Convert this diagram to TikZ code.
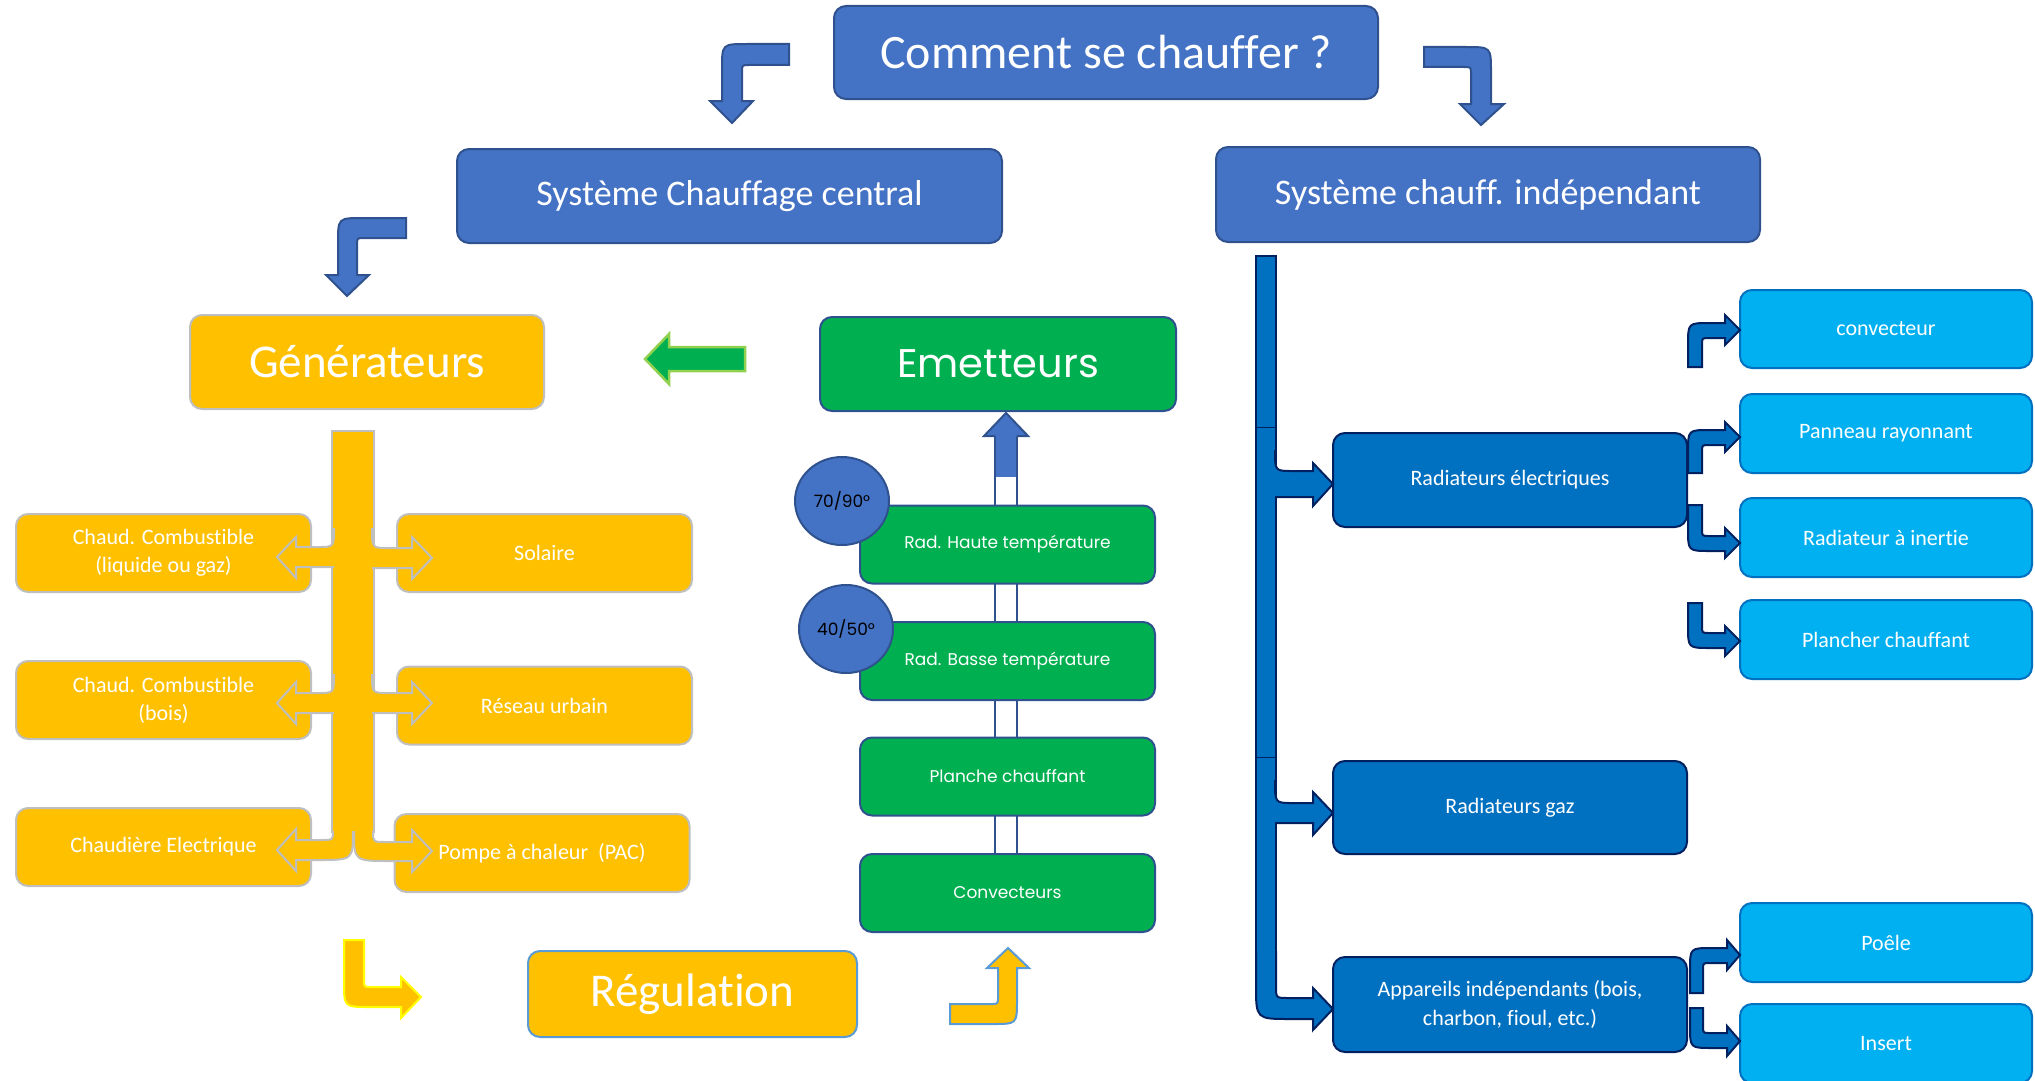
\documentclass[tikz,border=0pt]{standalone}
\usepackage{fontspec}
\setmainfont{Carlito}[Ligatures=NoCommon]
\newfontfamily\pop{Poppins}[Ligatures=NoCommon]
\definecolor{cBlue}{HTML}{4472C4}
\definecolor{cBlueD}{HTML}{2F528F}
\definecolor{cYel}{HTML}{FFC000}
\definecolor{cGray}{HTML}{BFBFBF}
\definecolor{cGreen}{HTML}{00B050}
\definecolor{cLGreen}{HTML}{92D050}
\definecolor{cDB}{HTML}{0070C0}
\definecolor{cNavy}{HTML}{002060}
\definecolor{cCyan}{HTML}{00B0F0}
\definecolor{cLB}{HTML}{5B9BD5}
\definecolor{cYY}{HTML}{FFFF00}
\tikzset{
  box/.style={rectangle, rounded corners=12pt, inner sep=0pt, align=center, line width=2pt, text=white},
  topbox/.style={box, fill=cBlue, draw=cBlueD},
  ybox/.style={box, fill=cYel, draw=cGray, minimum width=295pt, minimum height=78pt, font=\fontsize{22}{28}\selectfont},
  gbox/.style={box, fill=cGreen, draw=cBlueD, minimum width=295pt, minimum height=78pt, font=\pop\fontsize{17}{20}\selectfont},
  dbox/.style={box, fill=cDB, draw=cNavy, minimum width=354pt, minimum height=94pt, font=\fontsize{22}{29}\selectfont},
  cbox/.style={box, fill=cCyan, draw=cDB, minimum width=292pt, minimum height=79pt, font=\fontsize{22}{28}\selectfont},
  temp/.style={ellipse, fill=cBlue, draw=cBlueD, line width=2pt, minimum width=94pt, minimum height=88pt, inner sep=0pt, text=black, font=\pop\fontsize{17}{20}\selectfont},
  barrow/.style={fill=cBlue, draw=cBlueD, line width=2pt},
  yarrow/.style={fill=cYel, draw=cGray, line width=2pt},
  darrow/.style={fill=cDB, draw=cNavy, line width=2pt},
}
\usetikzlibrary{shapes.geometric}
\begin{document}
\begin{tikzpicture}[x=1pt,y=-1pt]
\useasboundingbox (0,0) rectangle (2035,1081);

% ---- Emetteurs column arrow (behind boxes)
\filldraw[fill=white, draw=cBlueD, line width=2pt] (995,436) -- (995,870) -- (1017,870) -- (1017,436);
\fill[cBlue] (996,436) rectangle (1016,477);
\filldraw[barrow] (995,436) -- (984,436) -- (1006,413) -- (1028,436) -- (1017,436);

% ---- top boxes
\node[topbox, minimum width=544pt, minimum height=93pt, font=\fontsize{48}{56}\selectfont] (q) at (1106,52.5) {Comment se chauffer ?};
\node[topbox, minimum width=545pt, minimum height=94pt, font=\fontsize{36}{42}\selectfont] (sc) at (729.5,196) {Système Chauffage central};
\node[topbox, minimum width=544pt, minimum height=95pt, font=\fontsize{36}{42}\selectfont] (si) at (1488,194.5) {Système chauff. indépendant};

% ---- generators
\node[box, fill=cYel, draw=cGray, minimum width=354pt, minimum height=94pt, font=\fontsize{47}{54}\selectfont] (gen) at (367,362) {Générateurs};
\node[ybox] (g1) at (163.5,553) {Chaud. Combustible\\(liquide ou gaz)};
\node[ybox] (g2) at (544.5,553) {Solaire};
\node[ybox] (g3) at (163.5,700) {Chaud. Combustible\\(bois)};
\node[ybox] (g4) at (544.5,705.5) {Réseau urbain};
\node[ybox] (g5) at (163.5,847) {Chaudière Electrique};
\node[ybox] (g6) at (542,853) {Pompe à chaleur~~(PAC)};
\node[box, fill=cYel, draw=cLB, minimum width=329pt, minimum height=86pt, font=\fontsize{47}{54}\selectfont] (reg) at (692.5,994) {Régulation};

% ---- emetteurs
\node[box, fill=cGreen, draw=cBlueD, minimum width=356pt, minimum height=94pt, font=\pop\fontsize{40}{48}\selectfont] (emet) at (998,364) {Emetteurs};
\node[gbox] (e1) at (1007.5,544.5) {Rad. Haute température};
\node[gbox] (e2) at (1007.5,661) {Rad. Basse température};
\node[gbox] (e3) at (1007.5,776.5) {Planche chauffant};
\node[gbox] (e4) at (1007.5,893) {Convecteurs};
\node[temp] (t1) at (842,501) {70/90°};
\node[temp] (t2) at (846,629) {40/50°};

% ---- independent
\node[dbox] (rel) at (1510,480) {Radiateurs électriques};
\node[dbox, minimum height=93pt] (rgaz) at (1510,807.5) {Radiateurs gaz};
\node[dbox, minimum height=95pt] (app) at (1510,1004.5) {Appareils indépendants (bois,\\charbon, fioul, etc.)};
\node[cbox, minimum height=78pt] (cv) at (1886,329) {convecteur};
\node[cbox] (pr) at (1886,433.5) {Panneau rayonnant};
\node[cbox] (ri) at (1886,537.5) {Radiateur à inertie};
\node[cbox] (pc) at (1886,639.5) {Plancher chauffant};
\node[cbox] (po) at (1886,942.5) {Poêle};
\node[cbox] (ins) at (1886,1043.5) {Insert};

% ---- top bent arrows
\filldraw[barrow] (789,44) -- (747,44) .. controls (722,44) .. (722,69) -- (722,101) -- (710,101) -- (732,123) -- (753,101) -- (742,101) -- (742,72) .. controls (742,65) .. (749,65) -- (789,65) -- cycle;
\filldraw[barrow] (1424,47) -- (1466,47) .. controls (1491,47) .. (1491,72) -- (1491,104) -- (1504,104) -- (1481,125) -- (1460,104) -- (1471,104) -- (1471,74) .. controls (1471,67) .. (1464,67) -- (1424,67) -- cycle;
\filldraw[barrow] (406,218) -- (363,218) .. controls (338,218) .. (338,243) -- (338,275) -- (326,275) -- (347,296) -- (369,275) -- (357,275) -- (357,245) .. controls (357,238) .. (364,238) -- (406,238) -- cycle;

% ---- green arrow
\filldraw[fill=cGreen, draw=cLGreen, line width=2.5pt] (745,347) -- (669,347) -- (669,334) -- (645,359) -- (669,384) -- (669,371) -- (745,371) -- cycle;

% ---- generators bar and branches
\filldraw[yarrow] (332,431) rectangle (374,832);
\filldraw[yarrow] (334,528) .. controls (334,547) .. (318,547) -- (296,547) -- (296,537) -- (277,557) -- (296,578) -- (296,567) -- (334,567);
\filldraw[yarrow] (372,528) .. controls (372,548) .. (388,548) -- (412,548) -- (412,537) -- (432,558) -- (412,579) -- (412,568) -- (372,568);
\filldraw[yarrow] (334,674) .. controls (334,693) .. (318,693) -- (296,693) -- (296,682) -- (277,703) -- (296,724) -- (296,713) -- (334,713);
\filldraw[yarrow] (372,674) .. controls (372,693) .. (388,693) -- (412,693) -- (412,682) -- (432,703) -- (412,724) -- (412,713) -- (372,713);
\filldraw[yarrow] (333,831) .. controls (333,840) .. (322,840) -- (296,840) -- (296,829) -- (277,850) -- (296,871) -- (296,860) -- (318,860) .. controls (353,860) .. (353,831);
\filldraw[yarrow] (373,831) .. controls (373,842) .. (386,842) -- (412,842) -- (412,830) -- (432,851) -- (412,872) -- (412,861) -- (390,861) .. controls (354,861) .. (354,831);

% ---- regulation arrows
\filldraw[fill=cYel, draw=cYY, line width=2pt] (344,940) -- (364,940) -- (364,980) .. controls (364,987) .. (371,987) -- (401,987) -- (401,977) -- (421,997) -- (401,1018) -- (401,1007) -- (369,1007) .. controls (344,1007) .. (344,982) -- cycle;
\filldraw[fill=cYel, draw=cLB, line width=2pt] (950,1004) -- (991,1004) .. controls (998,1004) .. (998,997) -- (998,968) -- (987,968) -- (1008,948) -- (1029,968) -- (1017,968) -- (1017,1000) .. controls (1017,1024) .. (993,1024) -- (950,1024) -- cycle;

% ---- independent bar and branches
\filldraw[darrow] (1256,256) rectangle (1276,968);
\draw[cNavy, line width=1pt] (1256,427) -- (1276,427) (1256,757) -- (1276,757);
\filldraw[darrow] (1275,450) .. controls (1275,471) .. (1292,471) -- (1313,471) -- (1313,463) -- (1333,484) -- (1313,506) -- (1313,497) -- (1275,497);
\filldraw[darrow] (1275,780) .. controls (1275,803) .. (1292,803) -- (1313,803) -- (1313,792) -- (1333,813) -- (1313,835) -- (1313,823) -- (1275,823);
\filldraw[darrow] (1256,951) -- (1256,985) .. controls (1256,1019) .. (1290,1019) -- (1313,1019) -- (1313,1030) -- (1333,1009) -- (1313,988) -- (1313,998) -- (1288,998) .. controls (1276,998) .. (1276,986) -- (1276,951);

% ---- small bent arrows
\filldraw[darrow] (1688,367) -- (1688,345) .. controls (1688,323) .. (1710,323) -- (1725,323) -- (1725,315) -- (1740,330) -- (1725,345) -- (1725,338) -- (1709,338) .. controls (1702,338) .. (1702,345) -- (1702,367) -- cycle;
\filldraw[darrow] (1688,473) -- (1688,452) .. controls (1688,430) .. (1710,430) -- (1725,430) -- (1725,422) -- (1740,437) -- (1725,452) -- (1725,445) -- (1709,445) .. controls (1702,445) .. (1702,452) -- (1702,473) -- cycle;
\filldraw[darrow] (1688,505) -- (1688,529) .. controls (1688,551) .. (1710,551) -- (1725,551) -- (1725,558) -- (1740,543) -- (1725,528) -- (1725,536) -- (1709,536) .. controls (1702,536) .. (1702,529) -- (1702,505) -- cycle;
\filldraw[darrow] (1688,603) -- (1688,626) .. controls (1688,648) .. (1710,648) -- (1725,648) -- (1725,656) -- (1740,641) -- (1725,626) -- (1725,633) -- (1709,633) .. controls (1702,633) .. (1702,626) -- (1702,603) -- cycle;
\filldraw[darrow] (1690,993) -- (1690,970) .. controls (1690,948) .. (1712,948) -- (1727,948) -- (1727,940) -- (1740,955) -- (1727,970) -- (1727,963) -- (1710,963) .. controls (1703,963) .. (1703,970) -- (1703,993) -- cycle;
\filldraw[darrow] (1690,1008) -- (1690,1026) .. controls (1690,1048) .. (1712,1048) -- (1727,1048) -- (1727,1056) -- (1740,1041) -- (1727,1026) -- (1727,1033) -- (1710,1033) .. controls (1703,1033) .. (1703,1026) -- (1703,1008) -- cycle;
\end{tikzpicture}
\end{document}
